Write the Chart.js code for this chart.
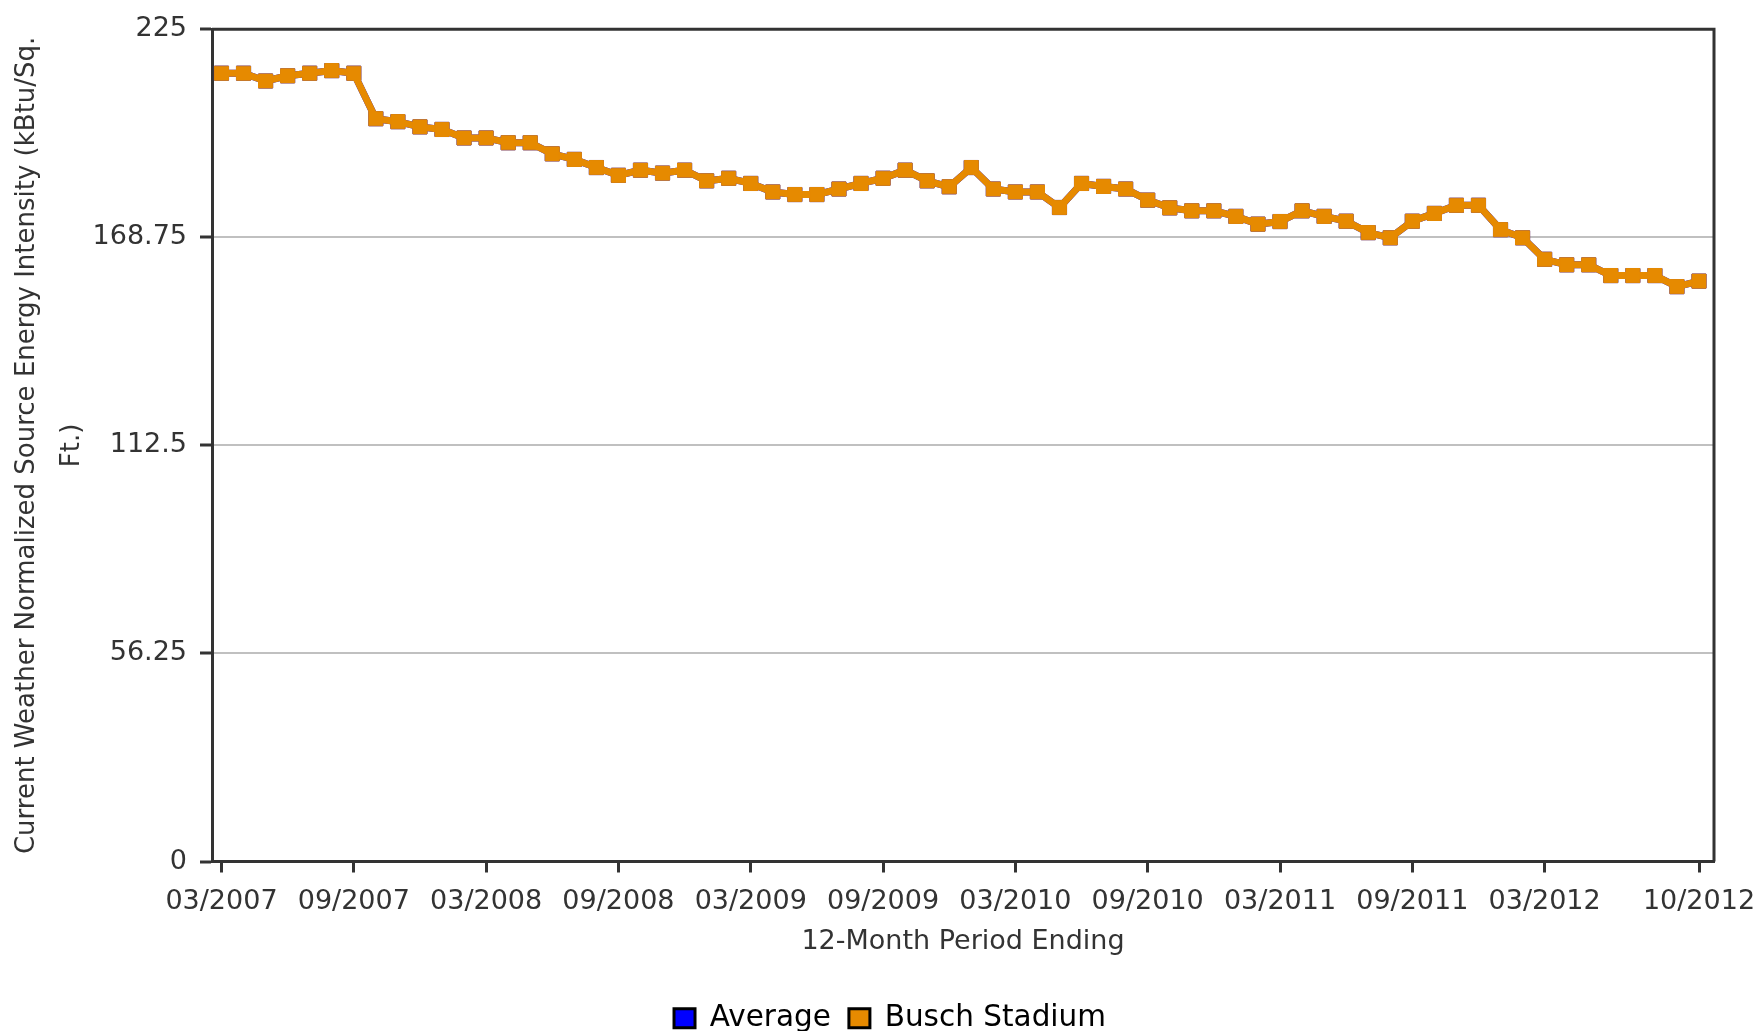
<!DOCTYPE html>
<html>
<head>
<meta charset="utf-8">
<title>Current Weather Normalized Source Energy Intensity</title>
<script src="https://cdn.jsdelivr.net/npm/chart.js@4.4.1/dist/chart.umd.min.js"></script>
<style>
  html, body { margin: 0; padding: 0; background: #fff; overflow: hidden; }
  #wrap { width: 1760px; height: 1040px; }
</style>
</head>
<body>
<div id="wrap"><canvas id="eiChart" width="1760" height="1040"></canvas></div>
<script>
// 12-month periods ending 03/2007 .. 10/2012 (68 months)
const months = [];
for (let i = 0; i < 68; i++) {
    const m = (2 + i) % 12 + 1;
    const y = 2007 + Math.floor((2 + i) / 12);
    months.push(String(m).padStart(2, '0') + '/' + y);
}

const xTickLabels = ['03/2007', '09/2007', '03/2008', '09/2008', '03/2009', '09/2009',
    '03/2010', '09/2010', '03/2011', '09/2011', '03/2012', '10/2012'];

const yTickValues = [0, 56.25, 112.5, 168.75, 225];
const yTickLabels = ['0', '56.25', '112.5', '168.75', '225'];

const buschValues = [
    213.1, 213.1, 211.0, 212.4, 213.1, 213.8, 213.1, 200.8, 200.0, 198.6,
    197.9, 195.6, 195.6, 194.3, 194.3, 191.3, 189.8, 187.6, 185.5, 186.9,
    186.1, 186.9, 184.0, 184.7, 183.3, 181.0, 180.3, 180.3, 181.8, 183.3,
    184.7, 186.9, 184.0, 182.4, 187.6, 181.8, 181.0, 181.0, 176.8, 183.3,
    182.5, 181.8, 178.8, 176.7, 175.9, 175.9, 174.4, 172.3, 173.0, 175.9,
    174.4, 173.1, 170.0, 168.6, 173.1, 175.2, 177.4, 177.4, 170.8, 168.6,
    162.8, 161.3, 161.3, 158.4, 158.4, 158.4, 155.4, 156.9
];

// the average line sits right under the building's line in the picture
const averageValues = buschValues;

const seriesNames = ['Average', 'Busch Stadium'];
const seriesColors = ['#0000ff', '#e68a00'];

const FONT = 'DejaVu Sans, Verdana, sans-serif';
const AXIS = '#333333';

function toPoints(values) {
    return values.map((v, i) => ({ x: i, y: v }));
}

// top and right edges of the plot box, plus legend nudge
const framePlugin = {
    id: 'frame',
    afterLayout(chart) {
        const lg = chart.legend;
        if (lg) {
            lg.left += 33; lg.right += 33;
            lg.top += 3; lg.bottom += 3;
        }
    },
    afterDraw(chart) {
        const ctx = chart.ctx;
        const a = chart.chartArea;
        ctx.save();
        ctx.strokeStyle = AXIS;
        ctx.lineWidth = 3;
        ctx.beginPath();
        ctx.moveTo(a.left, a.top);
        ctx.lineTo(a.right, a.top);
        ctx.lineTo(a.right, a.bottom);
        ctx.stroke();
        ctx.restore();
    }
};

const lineStyle = (color) => ({
    borderColor: color,
    backgroundColor: color,
    borderWidth: 7,
    pointStyle: 'rect',
    pointRadius: 10,
    pointBorderWidth: 1,
    pointBorderColor: color,
    pointBackgroundColor: color,
    tension: 0,
    fill: false
});

new Chart(document.getElementById('eiChart').getContext('2d'), {
    type: 'line',
    data: {
        datasets: [
            Object.assign({ label: seriesNames[0], data: toPoints(averageValues), order: 1 }, lineStyle(seriesColors[0])),
            Object.assign({ label: seriesNames[1], data: toPoints(buschValues), order: 0 }, lineStyle(seriesColors[1]))
        ]
    },
    options: {
        responsive: false,
        animation: false,
        devicePixelRatio: 1,
        events: [],
        layout: { padding: { top: 25, right: 46, left: 0, bottom: 0 } },
        plugins: {
            tooltip: { enabled: false },
            legend: {
                position: 'bottom',
                labels: {
                    font: { family: FONT, size: 29.5 },
                    color: '#000',
                    boxWidth: 21,
                    boxHeight: 19,
                    padding: 18,
                    generateLabels: (chart) => chart.data.datasets.map((ds, i) => ({
                        text: ds.label,
                        fillStyle: seriesColors[i],
                        strokeStyle: '#000',
                        lineWidth: 3,
                        fontColor: '#000',
                        hidden: false,
                        datasetIndex: i
                    })),
                    sort: (a, b) => a.datasetIndex - b.datasetIndex
                }
            }
        },
        scales: {
            x: {
                type: 'linear',
                min: -0.43,
                max: 67.68,
                afterBuildTicks: (scale) => {
                    scale.ticks = xTickLabels.map(l => ({ value: months.indexOf(l) }));
                },
                afterFit: (scale) => {
                    scale.height = 121;
                    scale.paddingLeft = 0;
                    scale.paddingRight = 0;
                },
                ticks: {
                    autoSkip: false,
                    maxRotation: 0,
                    padding: 13,
                    color: AXIS,
                    font: { family: FONT, size: 27 },
                    callback: (v) => months[v]
                },
                grid: {
                    drawOnChartArea: false,
                    drawTicks: true,
                    tickLength: 11,
                    tickWidth: 3,
                    tickColor: AXIS
                },
                border: { display: true, color: AXIS, width: 3 },
                title: {
                    display: true,
                    text: '12-Month Period Ending',
                    color: AXIS,
                    font: { family: FONT, size: 27 },
                    padding: { top: 0, bottom: 24 }
                }
            },
            y: {
                min: 0,
                max: 225,
                afterBuildTicks: (scale) => {
                    scale.ticks = yTickValues.map(v => ({ value: v }));
                },
                afterFit: (scale) => { scale.width = 212; },
                ticks: {
                    padding: 13,
                    color: AXIS,
                    font: { family: FONT, size: 27 },
                    callback: (v) => yTickLabels[yTickValues.indexOf(v)]
                },
                grid: {
                    color: (c) => (c.tick && (c.tick.value === 0 || c.tick.value === 225)) ? 'rgba(0,0,0,0)' : '#c0c0c0',
                    lineWidth: 2,
                    drawTicks: true,
                    tickLength: 12,
                    tickWidth: 3,
                    tickColor: AXIS
                },
                border: { display: true, color: AXIS, width: 3 },
                title: {
                    display: true,
                    text: ['Current Weather Normalized Source Energy Intensity (kBtu/Sq.', 'Ft.)'],
                    color: AXIS,
                    font: { family: FONT, size: 26, lineHeight: 1.73 },
                    padding: { top: 5, bottom: 0 }
                }
            }
        }
    },
    plugins: [framePlugin]
});
</script>
</body>
</html>
